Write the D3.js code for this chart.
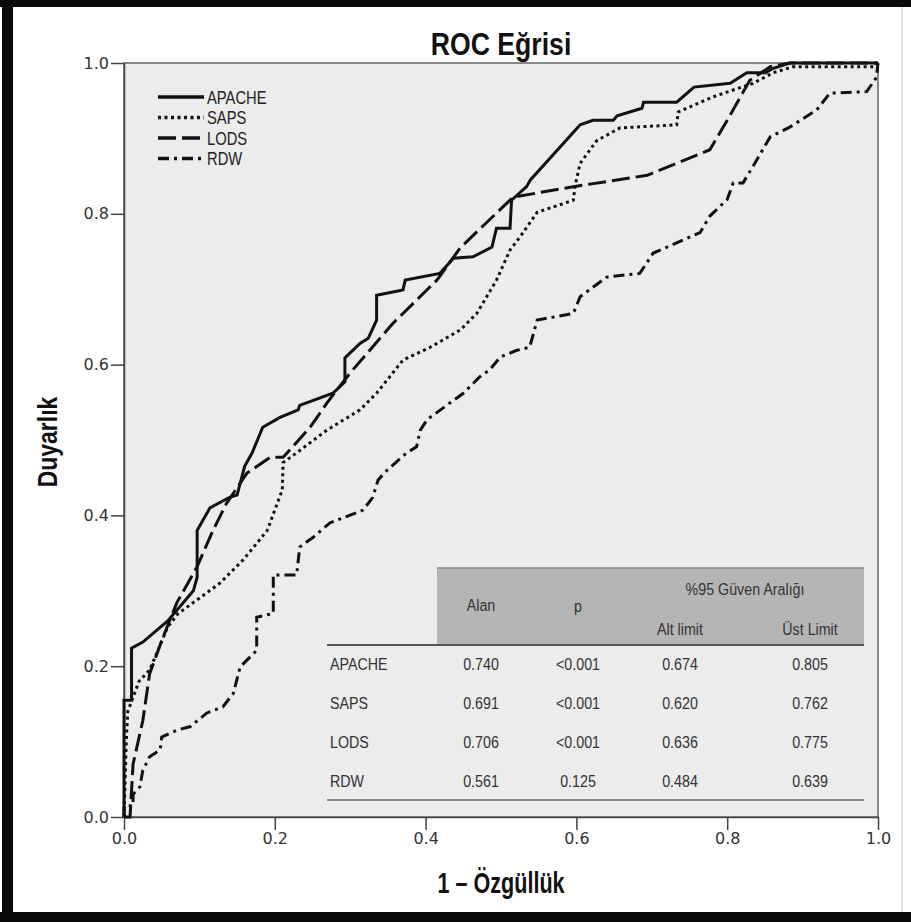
<!DOCTYPE html>
<html>
<head>
<meta charset="utf-8">
<script src="https://cdn.jsdelivr.net/npm/d3@7"></script>
<style>
  body { margin: 0; background: #fff; }
  svg { display: block; }
  .tick text { font-family: "DejaVu Sans", sans-serif; font-size: 16px; fill: #333; }
  .tick line { stroke: #444; stroke-width: 1.5; }
  .domain { stroke: #444; stroke-width: 1.5; }
  .narrow { font-family: "Liberation Sans", "Arial", sans-serif; }
</style>
</head>
<body>
<div id="graphic"></div>
<script>
var width = 911, height = 922;

// ROC points: [1 - specificity, sensitivity]
var apache = [[0,0],[0,0.155],[0.01,0.155],[0.01,0.224],[0.025,0.232],[0.058,0.26],[0.092,0.30],[0.097,0.318],
  [0.097,0.38],[0.114,0.41],[0.14,0.424],[0.15,0.427],[0.16,0.465],[0.17,0.483],[0.184,0.517],[0.207,0.53],
  [0.231,0.54],[0.233,0.546],[0.277,0.562],[0.293,0.577],[0.293,0.609],[0.313,0.628],[0.324,0.635],[0.335,0.659],
  [0.335,0.692],[0.37,0.699],[0.373,0.712],[0.419,0.721],[0.437,0.741],[0.463,0.743],[0.488,0.756],[0.494,0.781],
  [0.512,0.781],[0.514,0.818],[0.534,0.836],[0.539,0.845],[0.605,0.918],[0.622,0.924],[0.649,0.924],[0.654,0.93],
  [0.687,0.94],[0.689,0.948],[0.733,0.948],[0.756,0.968],[0.804,0.973],[0.826,0.987],[0.851,0.987],[0.861,0.993],
  [0.883,1],[1,1]];

var saps = [[0,0],[0.003,0.1],[0.005,0.14],[0.02,0.18],[0.034,0.195],[0.058,0.252],[0.072,0.27],[0.097,0.288],
  [0.127,0.31],[0.158,0.341],[0.19,0.38],[0.21,0.434],[0.211,0.47],[0.229,0.483],[0.269,0.513],[0.313,0.54],
  [0.335,0.562],[0.37,0.606],[0.406,0.623],[0.446,0.646],[0.468,0.668],[0.494,0.712],[0.512,0.752],[0.525,0.769],
  [0.548,0.802],[0.596,0.818],[0.598,0.836],[0.605,0.867],[0.627,0.897],[0.658,0.914],[0.733,0.918],[0.735,0.935],
  [0.781,0.955],[0.834,0.973],[0.861,0.987],[0.887,0.995],[0.995,0.995],[1,1]];

var lods = [[0,0],[0.008,0],[0.012,0.07],[0.025,0.128],[0.034,0.19],[0.052,0.239],[0.07,0.284],[0.097,0.332],
  [0.118,0.38],[0.136,0.416],[0.163,0.456],[0.194,0.477],[0.211,0.477],[0.247,0.517],[0.269,0.549],[0.3,0.589],
  [0.357,0.655],[0.415,0.712],[0.446,0.755],[0.516,0.822],[0.596,0.836],[0.694,0.851],[0.777,0.885],[0.8,0.924],
  [0.83,0.977],[0.857,0.995],[0.883,1],[1,1]];

var rdw = [[0,0],[0,0.015],[0.012,0.015],[0.012,0.03],[0.021,0.04],[0.025,0.062],[0.034,0.08],[0.048,0.089],
  [0.05,0.106],[0.07,0.115],[0.088,0.12],[0.11,0.138],[0.131,0.146],[0.145,0.164],[0.154,0.199],[0.176,0.221],
  [0.176,0.265],[0.198,0.27],[0.198,0.321],[0.229,0.321],[0.233,0.358],[0.251,0.371],[0.273,0.39],[0.317,0.407],
  [0.33,0.424],[0.337,0.447],[0.349,0.46],[0.375,0.483],[0.388,0.491],[0.393,0.513],[0.402,0.527],[0.432,0.549],
  [0.45,0.562],[0.472,0.584],[0.485,0.593],[0.499,0.61],[0.521,0.619],[0.538,0.623],[0.548,0.659],[0.596,0.668],
  [0.605,0.69],[0.64,0.716],[0.684,0.721],[0.702,0.748],[0.764,0.775],[0.777,0.797],[0.8,0.819],[0.808,0.841],
  [0.821,0.841],[0.839,0.871],[0.857,0.902],[0.883,0.915],[0.919,0.938],[0.936,0.96],[0.985,0.962],[0.998,0.981],[1,1]];

var seriesNames = ["APACHE", "SAPS", "LODS", "RDW"];
var seriesData = [apache, saps, lods, rdw];
var dashes = [null, "3,3.5", "18,6", "11,5,3,5"];

var tickValues = [0, 0.2, 0.4, 0.6, 0.8, 1.0];

// table
var tableRows = ["APACHE", "SAPS", "LODS", "RDW"];
var auc = ["0.740", "0.691", "0.706", "0.561"];
var pValues = ["<0.001", "<0.001", "<0.001", "0.125"];
var lowerCI = ["0.674", "0.620", "0.636", "0.484"];
var upperCI = ["0.805", "0.762", "0.775", "0.639"];

var svg = d3.select("#graphic").append("svg")
  .attr("width", width)
  .attr("height", height);

var x = d3.scaleLinear().domain([0, 1]).range([124, 878]);
var y = d3.scaleLinear().domain([0, 1]).range([817, 63]);

// squeezed text, stands in for a condensed font
function narrow(g, tx, ty, str, size, anchor, bold, sx, color){
  return g.append("text")
    .attr("class", "narrow")
    .attr("transform", "translate(" + tx + "," + ty + ") scale(" + sx + ",1)")
    .attr("text-anchor", anchor)
    .attr("font-size", size)
    .attr("font-weight", bold ? "bold" : "normal")
    .attr("fill", color)
    .text(str);
}

// frame of the picture
svg.append("rect").attr("x", 0).attr("y", 0).attr("width", width).attr("height", 7).attr("fill", "#0a0a0a");
svg.append("rect").attr("x", 2).attr("y", 0).attr("width", 11).attr("height", height).attr("fill", "#0a0a0a");
svg.append("rect").attr("x", 0).attr("y", 912).attr("width", width).attr("height", 10).attr("fill", "#0a0a0a");
svg.append("line").attr("x1", 902).attr("x2", 902).attr("y1", 7).attr("y2", 912).attr("stroke", "#ccc");

// plot background
svg.append("rect")
  .attr("x", x(0)).attr("y", y(1))
  .attr("width", x(1) - x(0)).attr("height", y(0) - y(1))
  .attr("fill", "#ececec")
  .attr("stroke", "#666")
  .attr("stroke-width", 1.5);

// axes
svg.append("g")
  .attr("transform", "translate(0," + y(0) + ")")
  .call(d3.axisBottom(x).tickValues(tickValues).tickFormat(d3.format(".1f")).tickSize(13).tickSizeOuter(0).tickPadding(3));

svg.append("g")
  .attr("transform", "translate(" + x(0) + ",0)")
  .call(d3.axisLeft(y).tickValues(tickValues).tickFormat(d3.format(".1f")).tickSize(13).tickSizeOuter(0).tickPadding(2));

// curves
var line = d3.line().x(function(d){ return x(d[0]); }).y(function(d){ return y(d[1]); });

svg.append("g").selectAll("path")
  .data(seriesData)
  .enter().append("path")
  .attr("d", line)
  .attr("fill", "none")
  .attr("stroke", "#111")
  .attr("stroke-width", 3)
  .attr("stroke-dasharray", function(d, i){ return dashes[i]; });

// titles
narrow(svg, 501, 55, "ROC Eğrisi", 31, "middle", true, 0.86, "#111");
narrow(svg, 501, 893, "1 – Özgüllük", 30, "middle", true, 0.72, "#111");
svg.append("text")
  .attr("class", "narrow")
  .attr("transform", "translate(57,442) rotate(-90) scale(0.82,1)")
  .attr("text-anchor", "middle")
  .attr("font-size", 28).attr("font-weight", "bold").attr("fill", "#111")
  .text("Duyarlık");

// legend
var legend = svg.append("g").attr("transform", "translate(158,97)");
seriesNames.forEach(function(name, i){
  legend.append("line")
    .attr("x1", 0).attr("x2", 46)
    .attr("y1", i * 20.5).attr("y2", i * 20.5)
    .attr("stroke", "#111").attr("stroke-width", 3.5)
    .attr("stroke-dasharray", dashes[i]);
  narrow(legend, 49, i * 20.5 + 6.5, name, 18, "start", false, 0.82, "#222");
});

// table
var tbl = svg.append("g");
tbl.append("rect").attr("x", 437).attr("y", 568).attr("width", 427).attr("height", 77).attr("fill", "#b5b5b5");
tbl.append("line").attr("x1", 437).attr("x2", 864).attr("y1", 568).attr("y2", 568).attr("stroke", "#888").attr("stroke-width", 1.5);
tbl.append("line").attr("x1", 327).attr("x2", 864).attr("y1", 645).attr("y2", 645).attr("stroke", "#555").attr("stroke-width", 2);
tbl.append("line").attr("x1", 327).attr("x2", 864).attr("y1", 800).attr("y2", 800).attr("stroke", "#888").attr("stroke-width", 2);

var colX = [481, 578, 680, 810];
var fs = 17, sx = 0.84, tc = "#333";
narrow(tbl, colX[0], 611, "Alan", fs, "middle", false, sx, tc);
narrow(tbl, colX[1], 612, "p", fs, "middle", false, sx, tc);
narrow(tbl, 745, 595, "%95 Güven Aralığı", fs, "middle", false, sx, tc);
narrow(tbl, colX[2], 635, "Alt limit", fs, "middle", false, sx, tc);
narrow(tbl, colX[3], 635, "Üst Limit", fs, "middle", false, sx, tc);

var rowY = d3.scalePoint().domain(tableRows).range([670, 787]);
tableRows.forEach(function(r, i){
  var yy = rowY(r);
  narrow(tbl, 330, yy, r, fs, "start", false, sx, tc);
  [auc[i], pValues[i], lowerCI[i], upperCI[i]].forEach(function(v, j){
    narrow(tbl, colX[j], yy, v, fs, "middle", false, sx, tc);
  });
});
</script>
</body>
</html>
